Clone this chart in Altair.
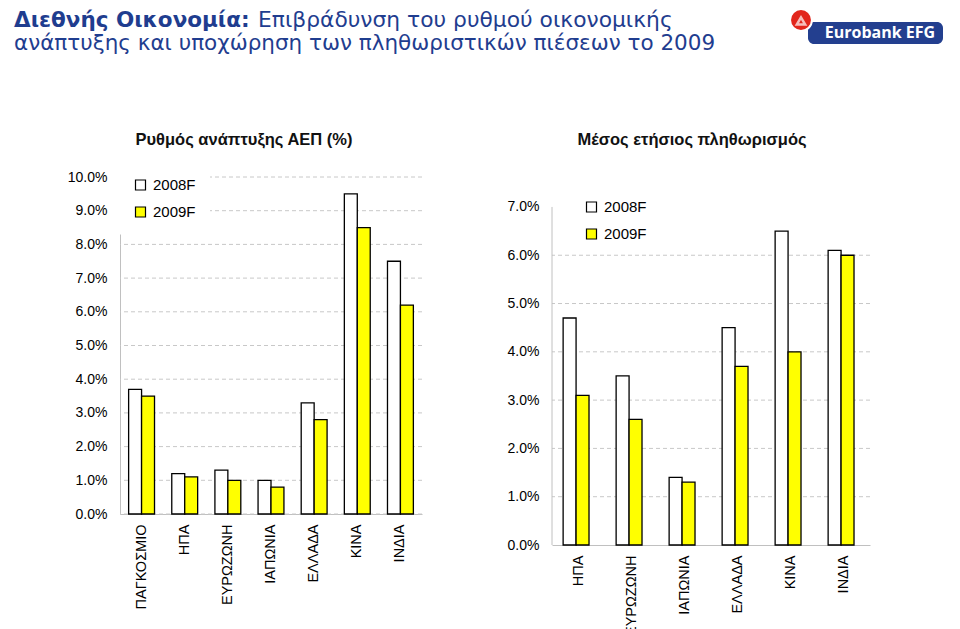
import altair as alt
import pandas as pd

# ---------------- data ----------------
years = ["2008F", "2009F"]

gdp_countries = ["ΠΑΓΚΟΣΜΙΟ", "ΗΠΑ", "ΕΥΡΩΖΩΝΗ", "ΙΑΠΩΝΙΑ", "ΕΛΛΑΔΑ", "ΚΙΝΑ", "ΙΝΔΙΑ"]
gdp_2008 = [3.7, 1.2, 1.3, 1.0, 3.3, 9.5, 7.5]
gdp_2009 = [3.5, 1.1, 1.0, 0.8, 2.8, 8.5, 6.2]

inf_countries = ["ΗΠΑ", "ΕΥΡΩΖΩΝΗ", "ΙΑΠΩΝΙΑ", "ΕΛΛΑΔΑ", "ΚΙΝΑ", "ΙΝΔΙΑ"]
inf_2008 = [4.7, 3.5, 1.4, 4.5, 6.5, 6.1]
inf_2009 = [3.1, 2.6, 1.3, 3.7, 4.0, 6.0]

gdp_ticks = [0, 1, 2, 3, 4, 5, 6, 7, 8, 9, 10]
gdp_grid = [0, 1, 2, 3, 4, 5, 6, 7, 8, 9, 10]
inf_ticks = [0, 1, 2, 3, 4, 5, 6, 7]
inf_grid = [1, 2, 3, 4, 5, 6]

title_bold = "Διεθνής Οικονομία:"
title_rest1 = "Επιβράδυνση του ρυθμού οικονομικής"
title_line2 = "ανάπτυξης και υποχώρηση των πληθωριστικών πιέσεων το 2009"
gdp_title = "Ρυθμός ανάπτυξης ΑΕΠ (%)"
inf_title = "Μέσος ετήσιος πληθωρισμός"
logo_text = "Eurobank EFG"

FONT = "Liberation Sans"
HFONT = "DejaVu Sans"
NAVY = "#1f3d8f"

hb = alt.Chart(pd.DataFrame({"k": [0]}))


def make_df(countries, v08, v09):
    rows = []
    for c, a, b in zip(countries, v08, v09):
        rows.append({"country": c, "year": years[0], "value": a})
        rows.append({"country": c, "year": years[1], "value": b})
    return pd.DataFrame(rows)


def panel(df, countries, ymax, axis_top, ticks, grid_vals, width, height, title, t_x,
          lx, ly, lpad, row_pad, sym_off, pad_in, pad_out, show_domain, extra_layers):
    yscale = alt.Scale(domain=[0, ymax], nice=False, zero=True)
    yaxis = alt.Axis(title=None, values=ticks, labelExpr="format(datum.value, '.1f') + '%'",
                     ticks=False, grid=False, labelPadding=13, labelFontSize=14,
                     labelFont=FONT, labelColor="#000000", domain=show_domain,
                     domainColor="#c0c0c0")
    grid = alt.Chart(pd.DataFrame({"g": grid_vals})).mark_rule(
        color="#c8c8c8", strokeDash=[4, 3], strokeWidth=1
    ).encode(y=alt.Y("g:Q", scale=yscale, axis=yaxis))
    layers = [grid]
    if not show_domain:
        axis_line = alt.Chart(pd.DataFrame({"a": [0], "b": [axis_top]})).mark_rule(
            color="#c0c0c0", strokeWidth=1
        ).encode(x=alt.value(0), y=alt.Y("a:Q", scale=yscale, axis=yaxis), y2="b:Q")
        layers.append(axis_line)
    bars = alt.Chart(df).mark_bar(stroke="black", strokeWidth=1.3).encode(
        x=alt.X("country:N", sort=countries,
                scale=alt.Scale(paddingInner=pad_in, paddingOuter=pad_out),
                axis=alt.Axis(title=None, labelAngle=270, ticks=False, labelPadding=10,
                              labelFontSize=14.5, labelFont=FONT, labelColor="#000000",
                              domainColor="#c0c0c0")),
        xOffset=alt.XOffset("year:N", sort=years),
        y=alt.Y("value:Q", scale=yscale, axis=yaxis),
        fill=alt.Fill("year:N",
                      scale=alt.Scale(domain=years, range=["#ffffff", "#ffff00"]),
                      legend=alt.Legend(title=None, orient="none", legendX=lx, legendY=ly,
                                        direction="vertical", fillColor="#ffffff",
                                        padding=lpad, symbolType="square", symbolSize=100,
                                        symbolStrokeColor="black", symbolStrokeWidth=1.2,
                                        symbolOffset=sym_off,
                                        labelFontSize=15, labelFont=FONT,
                                        labelColor="#000000", labelOffset=5,
                                        rowPadding=row_pad, zindex=1)),
    )
    ttl = hb.mark_text(text=title, font=FONT, fontSize=16.5, fontWeight="bold",
                       color="#111111", align="center", baseline="alphabetic").encode(
        x=alt.value(t_x), y=alt.value(-32))
    layers.extend([bars, ttl])
    layers.extend(extra_layers)
    return alt.layer(*layers).properties(width=width, height=height)


# ---------------- header (title, placed relative to left plot) ----------------
top_anchor = hb.mark_rule(opacity=0, strokeOpacity=0).encode(
    x=alt.value(0), x2=alt.value(1), y=alt.value(-172))
h_bold = hb.mark_text(text=title_bold, font=HFONT, fontSize=21.5, fontWeight="bold",
                      color=NAVY, align="left", baseline="alphabetic").encode(
    x=alt.value(-106), y=alt.value(-150))
h_rest = hb.mark_text(text=title_rest1, font=HFONT, fontSize=21.8, color=NAVY,
                      align="left", baseline="alphabetic").encode(
    x=alt.value(138), y=alt.value(-150))
h_line2 = hb.mark_text(text=title_line2, font=HFONT, fontSize=21.5, color=NAVY,
                       align="left", baseline="alphabetic").encode(
    x=alt.value(-106), y=alt.value(-127))

# ---------------- logo (placed relative to right plot) ----------------
logo_bar = hb.mark_rect(color="#233f8f", cornerRadius=6).encode(
    x=alt.value(256), x2=alt.value(391), y=alt.value(-155), y2=alt.value(-133))
logo_circle = hb.mark_circle(size=480, color="#e2261c", opacity=1, stroke="white",
                             strokeWidth=2).encode(x=alt.value(249), y=alt.value(-157))
logo_tri = hb.mark_point(shape="triangle-up", filled=False, color="white", strokeWidth=2.5,
                         size=70).encode(x=alt.value(249), y=alt.value(-156))
logo_txt = hb.mark_text(text=logo_text, font="Open Sans", fontSize=16, fontWeight="bold",
                        color="white", align="center", baseline="middle").encode(
    x=alt.value(328), y=alt.value(-144))

left = panel(make_df(gdp_countries, gdp_2008, gdp_2009), gdp_countries, 10, 10, gdp_ticks,
             gdp_grid, 302, 337, gdp_title, 124, -2, -13.5, 14, 11, 1, 0.4, 0.2, True,
             [top_anchor, h_bold, h_rest, h_line2])
right = panel(make_df(inf_countries, inf_2008, inf_2009), inf_countries, 7.62, 7, inf_ticks,
              inf_grid, 318, 368, inf_title, 140, 26, 16.5, 6, 11, 0, 0.42, 0.21, False,
              [logo_bar, logo_circle, logo_tri, logo_txt])

chart = alt.hconcat(left, right, spacing=130, bounds="flush").resolve_scale(
    fill="independent").resolve_legend(fill="independent").properties(
    padding={"left": 6, "top": -3, "right": 0, "bottom": 0}, background="white"
).configure_view(stroke=None)

chart.save("out.html", embed_options={"renderer": "svg", "actions": False})
